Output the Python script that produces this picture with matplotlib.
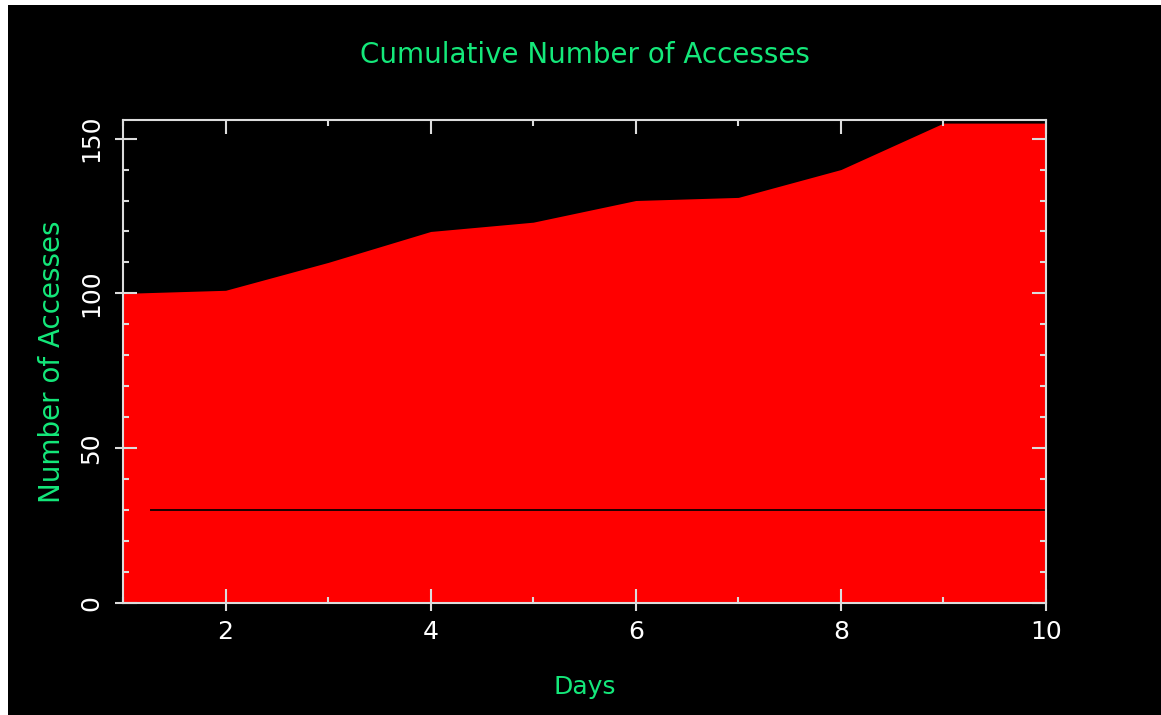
import matplotlib
matplotlib.use("Agg")
import matplotlib.pyplot as plt
from matplotlib.patches import Rectangle
from matplotlib.ticker import MultipleLocator, NullLocator

# Daily cumulative access counts
days = [1, 2, 3, 4, 5, 6, 7, 8, 9, 10]
accesses = [100, 101, 110, 120, 123, 130, 131, 140, 155, 155]

# Reference level drawn across the plot
ref_level = 30
ref_start = 1.27

title = "Cumulative Number of Accesses"
xlabel = "Days"
ylabel = "Number of Accesses"

GREEN = "#14e87a"
AXCOL = "#dcdcdc"
FONT = "DejaVu Sans"

W, H = 1161, 715
fig = plt.figure(figsize=(W / 100, H / 100), dpi=100, facecolor="white")
# black plotting canvas
fig.patches.append(Rectangle((8 / W, 0), 1 - 8 / W, 1 - 5 / H,
                             transform=fig.transFigure, facecolor="black",
                             edgecolor="none", zorder=-10))

pos = [123 / W, 1 - 603 / H, (1046 - 123) / W, (603 - 120) / H]
ax = fig.add_axes(pos)
ax.set_facecolor("black")

ax.fill_between(days, 0, accesses, color="#ff0000", lw=0)
ax.plot([ref_start, days[-1]], [ref_level, ref_level], color="#1a0000", lw=1.4)

xlim = (1, 10)
ylim = (0, 156)
ax.set_xlim(*xlim)
ax.set_ylim(*ylim)

for s in ax.spines.values():
    s.set_color(AXCOL)
    s.set_linewidth(1.5)

ax.xaxis.set_major_locator(MultipleLocator(2))
ax.xaxis.set_minor_locator(MultipleLocator(1))
ax.yaxis.set_major_locator(MultipleLocator(50))
ax.yaxis.set_minor_locator(MultipleLocator(10))

# inward ticks on all four edges, no labels
ax.tick_params(which="both", direction="in", top=True, right=True,
               labelbottom=False, labelleft=False, width=1.5, color=AXCOL)
ax.tick_params(which="major", length=10)
ax.tick_params(which="minor", length=4)

# outward stubs and labels on the left and bottom
ax2 = fig.add_axes(pos, frameon=False)
ax2.set_xlim(*xlim)
ax2.set_ylim(*ylim)
ax2.patch.set_alpha(0)
ax2.xaxis.set_major_locator(MultipleLocator(2))
ax2.yaxis.set_major_locator(MultipleLocator(50))
ax2.xaxis.set_minor_locator(NullLocator())
ax2.yaxis.set_minor_locator(NullLocator())
ax2.tick_params(which="major", direction="out", length=6, width=1.5,
                color=AXCOL, labelcolor="white", labelsize=18)
ax2.tick_params(axis="x", pad=6)
ax2.tick_params(axis="y", pad=8)
for lab in ax2.get_yticklabels():
    lab.set_rotation(90)
    lab.set_va("center")
    lab.set_ha("right")
    lab.set_fontfamily(FONT)

cx = (123 + 1046) / 2 / W
fig.text(cx, 1 - 55 / H, title, color=GREEN, fontsize=20, family=FONT,
         ha="center", va="center")
fig.text(cx, 1 - 687 / H, xlabel, color=GREEN, fontsize=18, family=FONT,
         ha="center", va="center")
fig.text(52 / W, 1 - 362 / H, ylabel, color=GREEN, fontsize=20, family=FONT,
         ha="center", va="center", rotation=90)

fig.savefig("out.png", dpi=100, facecolor=fig.get_facecolor())
